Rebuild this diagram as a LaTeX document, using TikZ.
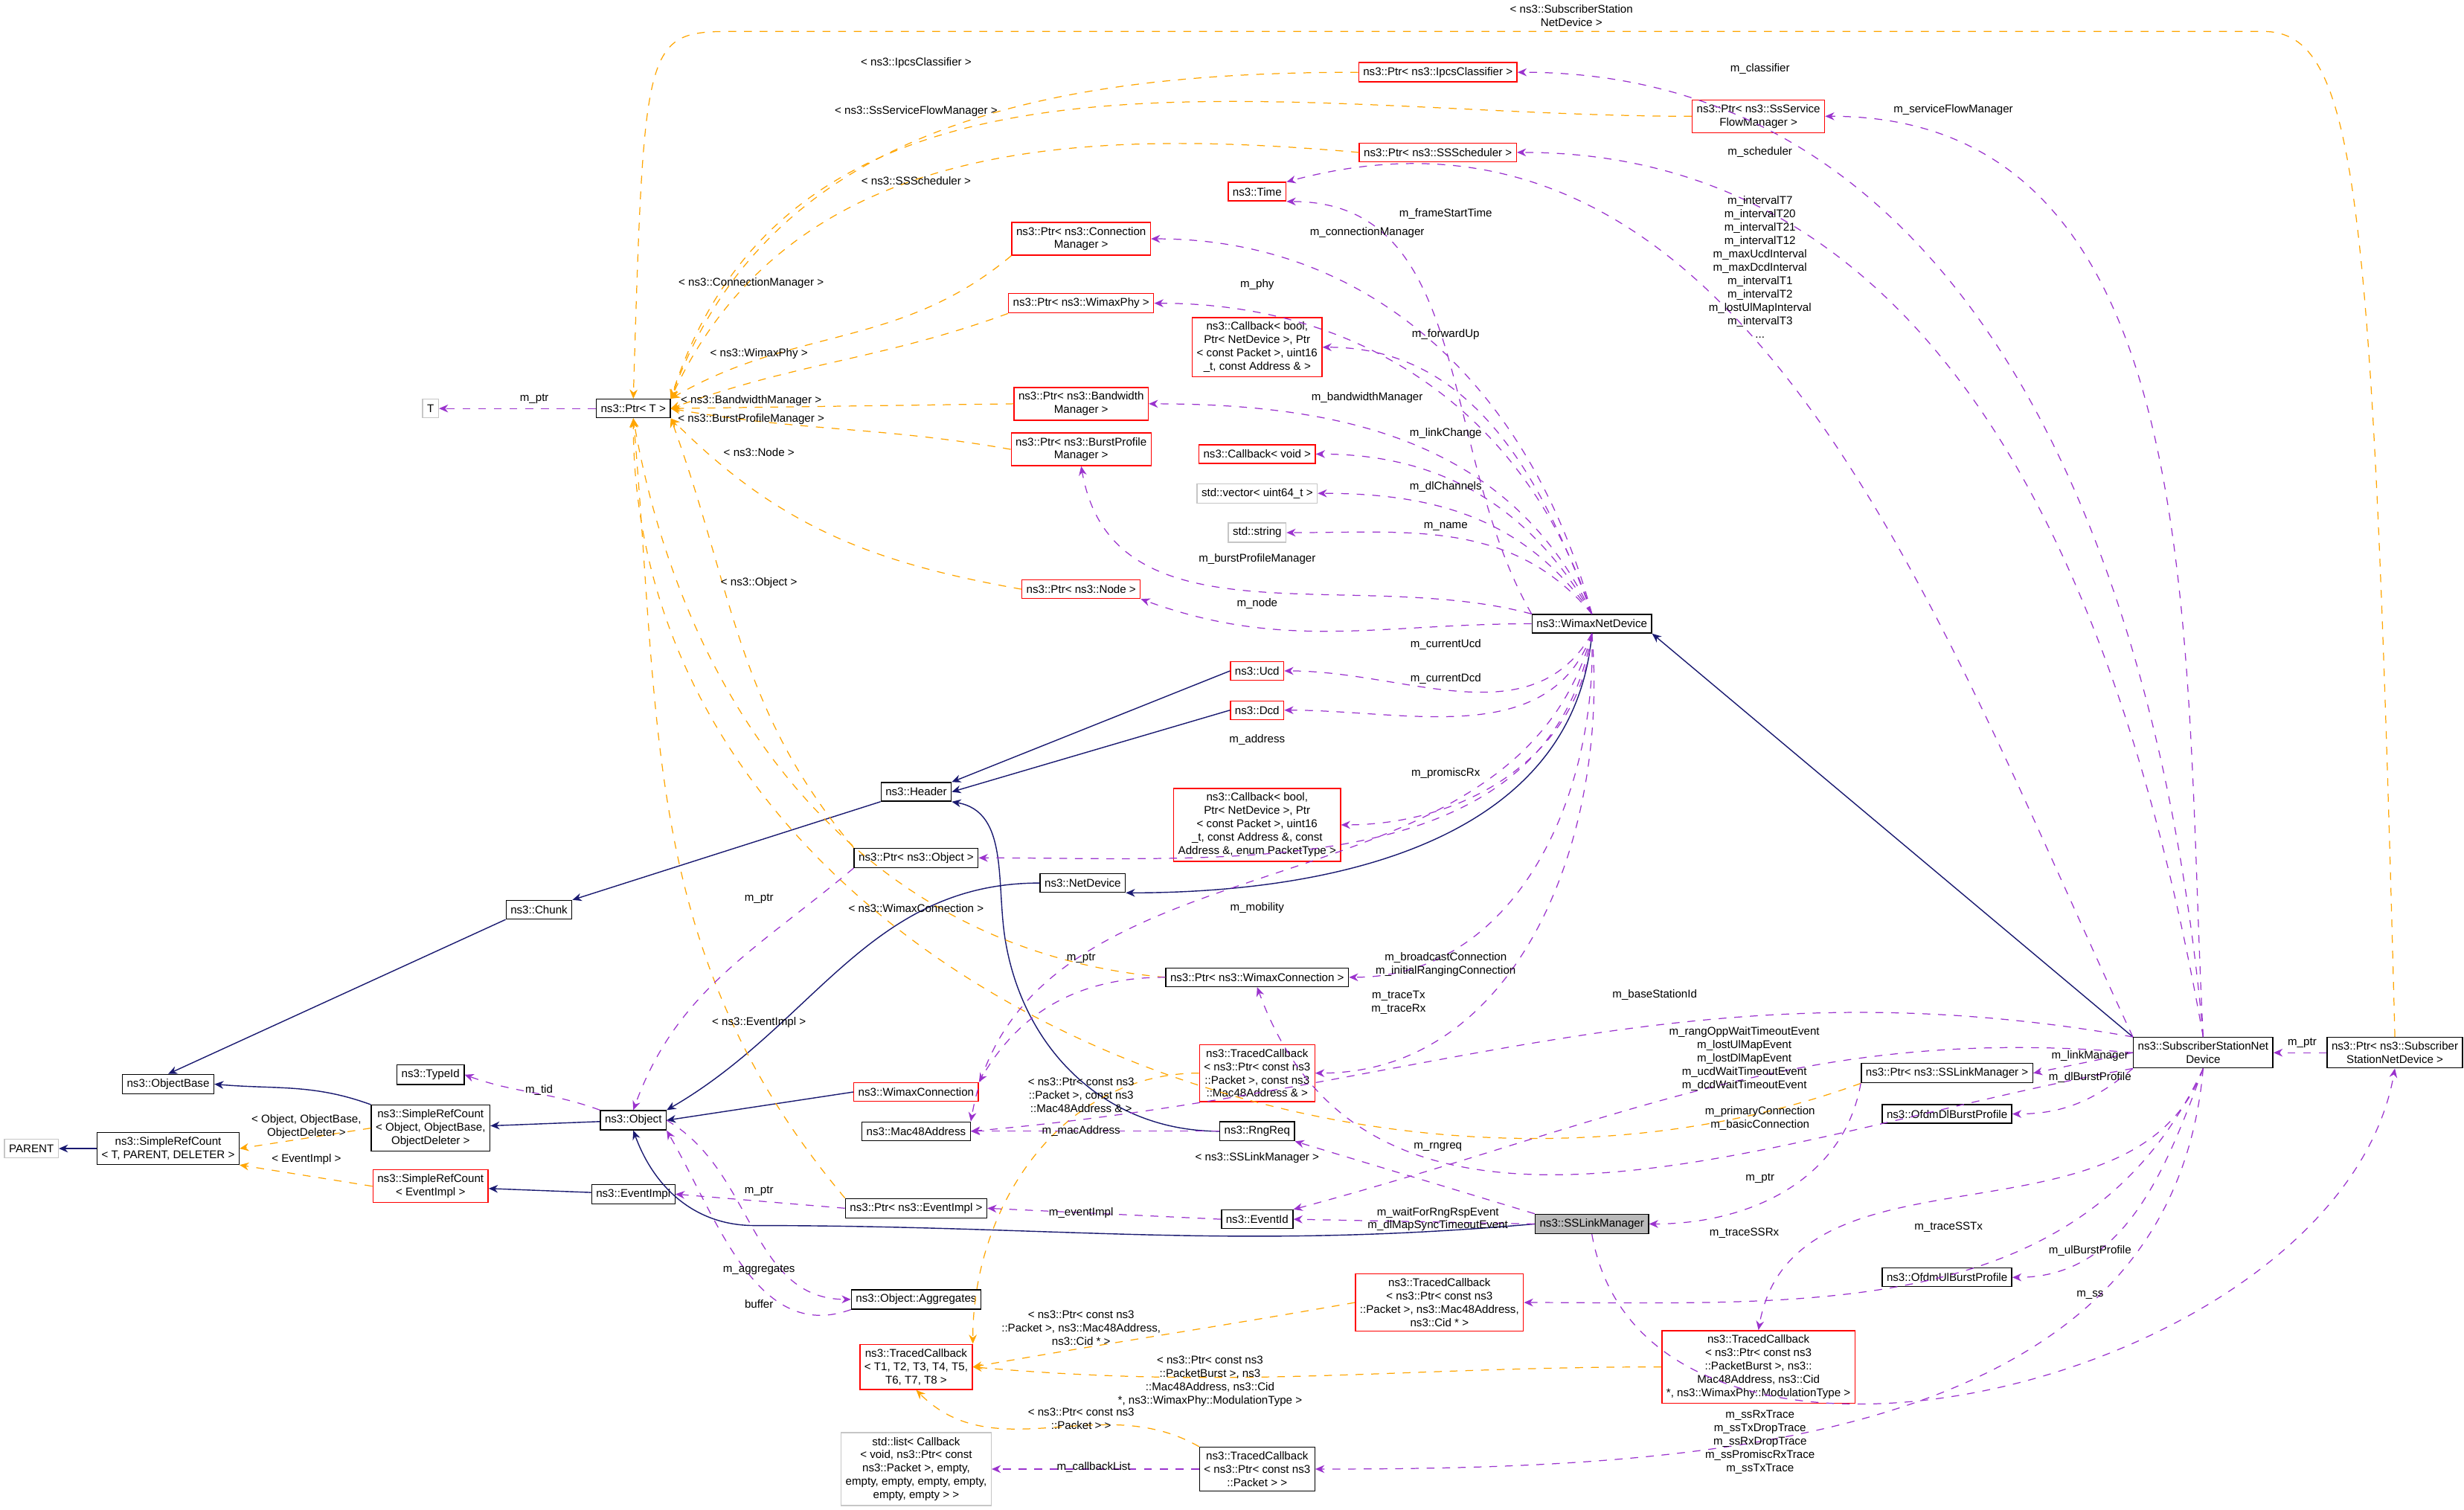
\documentclass[tikz,border=0pt]{standalone}
\usepackage{fontspec}
\setmainfont{Liberation Sans}
\usetikzlibrary{arrows.meta}
\definecolor{memcol}{HTML}{9A32CD}
\definecolor{tplcol}{HTML}{FFA500}
\definecolor{inhcol}{HTML}{191970}
\newcommand{\dfont}{\fontsize{4.3}{5.1}\selectfont}
\tikzset{
  cls/.style={draw=black, fill=white, font=\dfont, align=center, inner sep=1.7pt, minimum height=0.25cm, line width=0.4pt},
  redcls/.style={cls, draw=red},
  extcls/.style={cls, draw=gray!45},
  focus/.style={cls, fill=gray!55},
  lbl/.style={font=\dfont, align=center, text=black, inner sep=0.5pt},
  mem/.style={memcol, dashed, line width=0.35pt, -{Stealth[length=3.5pt,width=3pt]}},
  tpl/.style={tplcol, dashed, line width=0.35pt, -{Stealth[length=3.5pt,width=3pt]}},
  inh/.style={inhcol, line width=0.4pt, -{Stealth[length=3.5pt,width=3pt]}}
}
\begin{document}
\begin{tikzpicture}[x=0.02112cm, y=-0.02112cm]
\useasboundingbox (0,0) rectangle (1568,961);
% classes
\node[extcls] (parent) at (20,731) {PARENT};
\node[cls] (srct) at (107,731) {ns3::SimpleRefCount\\< T, PARENT, DELETER >};
\node[cls] (objbase) at (107,690) {ns3::ObjectBase};
\node[cls] (chunk) at (343,579) {ns3::Chunk};
\node[cls] (typeid) at (274,684) {ns3::TypeId};
\node[cls] (srcobj) at (274,718) {ns3::SimpleRefCount\\< Object, ObjectBase,\\ObjectDeleter >};
\node[redcls] (srcev) at (274,755) {ns3::SimpleRefCount\\< EventImpl >};
\node[cls] (object) at (403,713) {ns3::Object};
\node[cls] (eventimpl) at (403,760) {ns3::EventImpl};
\node[extcls] (tt) at (274,260) {T};
\node[cls] (ptrt) at (403,260) {ns3::Ptr< T >};
\node[cls] (header) at (583,504) {ns3::Header};
\node[cls] (ptrobj) at (583,546) {ns3::Ptr< ns3::Object >};
\node[redcls] (wconn) at (583,695) {ns3::WimaxConnection};
\node[cls] (mac) at (583,720) {ns3::Mac48Address};
\node[cls] (ptrev) at (583,769) {ns3::Ptr< ns3::EventImpl >};
\node[cls] (aggr) at (583,827) {ns3::Object::Aggregates};
\node[redcls] (tcgen) at (583,870) {ns3::TracedCallback\\< T1, T2, T3, T4, T5,\\T6, T7, T8 >};
\node[extcls] (cblist) at (583,935) {std::list< Callback\\< void, ns3::Ptr< const\\ns3::Packet >, empty,\\empty, empty, empty, empty,\\empty, empty > >};
\node[redcls] (ptrcm) at (688,152) {ns3::Ptr< ns3::Connection\\Manager >};
\node[redcls] (ptrphy) at (688,193) {ns3::Ptr< ns3::WimaxPhy >};
\node[redcls] (ptrbw) at (688,257) {ns3::Ptr< ns3::Bandwidth\\Manager >};
\node[redcls] (ptrbp) at (688,286) {ns3::Ptr< ns3::BurstProfile\\Manager >};
\node[redcls] (ptrnode) at (688,375) {ns3::Ptr< ns3::Node >};
\node[cls] (netdev) at (689,562) {ns3::NetDevice};
\node[redcls] (ptrcls) at (915,46) {ns3::Ptr< ns3::IpcsClassifier >};
\node[redcls] (ptrsf) at (1119,74) {ns3::Ptr< ns3::SsService\\FlowManager >};
\node[redcls] (ptrsch) at (915,97) {ns3::Ptr< ns3::SSScheduler >};
\node[redcls] (time) at (800,122) {ns3::Time};
\node[redcls] (cbfwd) at (800,221) {ns3::Callback< bool,\\Ptr< NetDevice >, Ptr\\< const Packet >, uint16\\\_t, const Address \& >};
\node[redcls] (cbvoid) at (800,289) {ns3::Callback< void >};
\node[extcls] (vec) at (800,314) {std::vector< uint64\_t >};
\node[extcls] (str) at (800,339) {std::string};
\node[cls] (wnd) at (1013,397) {ns3::WimaxNetDevice};
\node[redcls] (ucd) at (800,427) {ns3::Ucd};
\node[redcls] (dcd) at (800,452) {ns3::Dcd};
\node[redcls] (cbprom) at (800,525) {ns3::Callback< bool,\\Ptr< NetDevice >, Ptr\\< const Packet >, uint16\\\_t, const Address \&, const\\Address \&, enum PacketType >};
\node[cls] (ptrwc) at (800,622) {ns3::Ptr< ns3::WimaxConnection >};
\node[redcls] (tcmac) at (800,683) {ns3::TracedCallback\\< ns3::Ptr< const ns3\\::Packet >, const ns3\\::Mac48Address \& >};
\node[cls] (rngreq) at (800,720) {ns3::RngReq};
\node[cls] (eventid) at (800,776) {ns3::EventId};
\node[cls] (tcpkt) at (800,935) {ns3::TracedCallback\\< ns3::Ptr< const ns3\\::Packet > >};
\node[focus] (sslm) at (1013,779) {ns3::SSLinkManager};
\node[redcls] (tccid) at (916,829) {ns3::TracedCallback\\< ns3::Ptr< const ns3\\::Packet >, ns3::Mac48Address,\\ns3::Cid * >};
\node[redcls] (tcburst) at (1119,870) {ns3::TracedCallback\\< ns3::Ptr< const ns3\\::PacketBurst >, ns3::\\Mac48Address, ns3::Cid\\*, ns3::WimaxPhy::ModulationType >};
\node[cls] (ssnd) at (1402,670) {ns3::SubscriberStationNet\\Device};
\node[cls] (ptrlm) at (1239,683) {ns3::Ptr< ns3::SSLinkManager >};
\node[cls] (dlburst) at (1239,709) {ns3::OfdmDlBurstProfile};
\node[cls] (ulburst) at (1239,813) {ns3::OfdmUlBurstProfile};
\node[cls] (ptrssnd) at (1524,670) {ns3::Ptr< ns3::Subscriber\\StationNetDevice >};
% inheritance
\draw[inh] (srct) -- (parent);
\draw[inh] (chunk.south west) -- (objbase.north);
\draw[inh] (srcobj.north west) to[out=160,in=-5] (objbase.east);
\draw[inh] (header.south west) -- (chunk.north east);
\draw[inh] (object) -- (srcobj);
\draw[inh] (eventimpl) -- (srcev);
\draw[inh] (wconn.west) -- (object.east);
\draw[inh] (netdev.west) to[out=180,in=30] (object.north east);
\draw[inh] (ucd.west) -- (header.north east);
\draw[inh] (dcd.west) -- (header.east);
\draw[inh] (rngreq.west) to[out=180,in=-80] (640,600) to[out=100,in=-10] (header.south east);
\draw[inh] (wnd.south) to[out=-95,in=0] (netdev.south east);
\draw[inh] (ssnd.north west) -- (wnd.south east);
\draw[inh] (sslm.west) to[out=185,in=0] (480,780) to[out=180,in=-70] (object.south);
% templates
\draw[tpl] (srcobj.west) -- (srct.east);
\draw[tpl] (srcev.west) -- (srct.south east);
\draw[tpl] (ptrcls.west) to[out=180,in=70] (ptrt.north east);
\draw[tpl] (ptrsf.west) to[out=180,in=72] (ptrt.north east);
\draw[tpl] (ptrsch.west) to[out=175,in=65] (ptrt.north east);
\draw[tpl] (ptrcm.south west) to[out=220,in=30] (ptrt.north east);
\draw[tpl] (ptrphy.south west) to[out=200,in=20] (ptrt.east);
\draw[tpl] (ptrbw.west) -- (ptrt.east);
\draw[tpl] (ptrbp.west) to[out=170,in=-10] (ptrt.east);
\draw[tpl] (ptrnode.west) to[out=170,in=-45] (ptrt.south east);
\draw[tpl] (ptrobj.north west) to[out=130,in=-70] (ptrt.south east);
\draw[tpl] (ptrwc.west) to[out=175,in=-80] (ptrt.south);
\draw[tpl] (ptrev.north west) to[out=130,in=-85] (ptrt.south);
\draw[tpl] (ptrlm.south west) to[out=200,in=-90] (ptrt.south);
\draw[tpl] (ptrssnd.north) .. controls (1510,120) and (1500,20) .. (1440,20) -- (470,20) .. controls (410,20) .. (ptrt.north);
\draw[tpl] (tcmac.west) to[out=180,in=90] (tcgen.north east);
\draw[tpl] (tccid.west) to[out=190,in=10] (tcgen.east);
\draw[tpl] (tcburst.west) to[out=180,in=-5] (tcgen.east);
\draw[tpl] (tcpkt.north west) to[out=150,in=-45] (tcgen.south);
% members
\draw[mem] (ptrt) -- (tt);
\draw[mem] (ptrobj.south west) to[out=220,in=70] (object.north);
\draw[mem] (ptrev.west) -- (eventimpl.east);
\draw[mem] (object.east) to[out=-30,in=180] (aggr.west);
\draw[mem] (aggr.south west) to[out=200,in=-60] (object.south east);
\draw[mem] (object.north west) to[out=160,in=-20] (typeid.east);
\draw[mem] (eventid.west) -- (ptrev.east);
\draw[mem] (rngreq.west) -- (mac.east);
\draw[mem] (ptrwc.west) to[out=180,in=60] (wconn.north east);
\draw[mem] (tcpkt.west) -- (cblist.east);
\draw[mem] (wnd.north west) to[out=120,in=0] (time.south east);
\draw[mem] (wnd.north) to[out=105,in=0] (ptrcm.east);
\draw[mem] (wnd.north) to[out=108,in=0] (ptrphy.east);
\draw[mem] (wnd.north) to[out=110,in=0] (cbfwd.east);
\draw[mem] (wnd.north) to[out=115,in=0] (ptrbw.east);
\draw[mem] (wnd.north) to[out=120,in=0] (cbvoid.east);
\draw[mem] (wnd.north) to[out=125,in=0] (vec.east);
\draw[mem] (wnd.north) to[out=130,in=0] (str.east);
\draw[mem] (wnd.north west) to[out=165,in=-80] (ptrbp.south);
\draw[mem] (wnd.west) to[out=180,in=-20] (ptrnode.south east);
\draw[mem] (wnd.south) to[out=-120,in=0] (ucd.east);
\draw[mem] (wnd.south) to[out=-110,in=0] (dcd.east);
\draw[mem] (wnd.south) to[out=-105,in=80] (mac.north east);
\draw[mem] (wnd.south) to[out=-95,in=0] (cbprom.east);
\draw[mem] (wnd.south) to[out=-100,in=0] (ptrobj.east);
\draw[mem] (wnd.south) to[out=-88,in=0] (ptrwc.east);
\draw[mem] (wnd.south) to[out=-85,in=0] (tcmac.east);
\draw[mem] (ssnd.north) to[out=95,in=0] (ptrcls.east);
\draw[mem] (ssnd.north) to[out=93,in=0] (ptrsf.east);
\draw[mem] (ssnd.north) to[out=100,in=0] (ptrsch.east);
\draw[mem] (ssnd.north west) to[out=115,in=15] (time.north east);
\draw[mem] (ssnd.north west) to[out=170,in=5] (mac.east);
\draw[mem] (ssnd.west) to[out=175,in=15] (eventid.north east);
\draw[mem] (ssnd.south west) to[out=190,in=-70] (ptrwc.south);
\draw[mem] (ssnd.west) -- (ptrlm.east);
\draw[mem] (ssnd.south west) to[out=220,in=0] (dlburst.east);
\draw[mem] (ssnd.south) to[out=-110,in=0] (ulburst.east);
\draw[mem] (ssnd.south) to[out=-115,in=0] (tccid.east);
\draw[mem] (ssnd.south) to[out=-110,in=80] (tcburst.north);
\draw[mem] (ssnd.south) to[out=-95,in=0] (tcpkt.east);
\draw[mem] (ptrssnd.west) -- (ssnd.east);
\draw[mem] (ptrlm.south west) to[out=-100,in=0] (sslm.east);
\draw[mem] (sslm.west) -- (eventid.east);
\draw[mem] (sslm.north west) -- (rngreq.south east);
\draw[mem] (sslm.south) to[out=-80,in=-100] (ptrssnd.south);
% labels
\node[lbl] (lsub) at (1000,10) {< ns3::SubscriberStation\\NetDevice >};
\node[lbl] (lcls) at (583,40) {< ns3::IpcsClassifier >};
\node[lbl] (lsf) at (583,71) {< ns3::SsServiceFlowManager >};
\node[lbl] (lsch) at (583,115) {< ns3::SSScheduler >};
\node[lbl] (lcm) at (478,180) {< ns3::ConnectionManager >};
\node[lbl] (lphy) at (483,225) {< ns3::WimaxPhy >};
\node[lbl] (lbw) at (478,255) {< ns3::BandwidthManager >};
\node[lbl] (lbp) at (478,267) {< ns3::BurstProfileManager >};
\node[lbl] (lnode) at (483,288) {< ns3::Node >};
\node[lbl] (lobj) at (483,371) {< ns3::Object >};
\node[lbl] (lwc) at (583,578) {< ns3::WimaxConnection >};
\node[lbl] (lev) at (483,651) {< ns3::EventImpl >};
\node[lbl] (llm) at (800,737) {< ns3::SSLinkManager >};
\node[lbl] (lsrco) at (195,717) {< Object, ObjectBase,\\ObjectDeleter >};
\node[lbl] (lsrce) at (195,738) {< EventImpl >};
\node[lbl] (ltcmac) at (688,697) {< ns3::Ptr< const ns3\\::Packet >, const ns3\\::Mac48Address \& >};
\node[lbl] (ltccid) at (688,845) {< ns3::Ptr< const ns3\\::Packet >, ns3::Mac48Address,\\ns3::Cid * >};
\node[lbl] (ltcbur) at (770,879) {< ns3::Ptr< const ns3\\::PacketBurst >, ns3\\::Mac48Address, ns3::Cid\\*, ns3::WimaxPhy::ModulationType >};
\node[lbl] (ltcpkt) at (688,903) {< ns3::Ptr< const ns3\\::Packet > >};
\node[lbl] (lptrt) at (340,254) {m\_ptr};
\node[lbl] (lptro) at (483,572) {m\_ptr};
\node[lbl] (lptre) at (483,758) {m\_ptr};
\node[lbl] (lptrw) at (688,610) {m\_ptr};
\node[lbl] (ltid) at (343,694) {m\_tid};
\node[lbl] (laggr) at (483,808) {m\_aggregates};
\node[lbl] (lbuf) at (483,830) {buffer};
\node[lbl] (levi) at (688,772) {m\_eventImpl};
\node[lbl] (lmaca) at (688,720) {m\_macAddress};
\node[lbl] (lcbl) at (696,934) {m\_callbackList};
\node[lbl] (lclsm) at (1120,44) {m\_classifier};
\node[lbl] (lsfm) at (1243,70) {m\_serviceFlowManager};
\node[lbl] (lschm) at (1120,97) {m\_scheduler};
\node[lbl] (lint) at (1120,170) {m\_intervalT7\\m\_intervalT20\\m\_intervalT21\\m\_intervalT12\\m\_maxUcdInterval\\m\_maxDcdInterval\\m\_intervalT1\\m\_intervalT2\\m\_lostUlMapInterval\\m\_intervalT3\\...};
\node[lbl] (lfst) at (920,136) {m\_frameStartTime};
\node[lbl] (lcmm) at (870,148) {m\_connectionManager};
\node[lbl] (lphym) at (800,181) {m\_phy};
\node[lbl] (lfwd) at (920,213) {m\_forwardUp};
\node[lbl] (lbwm) at (870,253) {m\_bandwidthManager};
\node[lbl] (llc) at (920,276) {m\_linkChange};
\node[lbl] (ldlc) at (920,310) {m\_dlChannels};
\node[lbl] (lname) at (920,335) {m\_name};
\node[lbl] (lbpm) at (800,356) {m\_burstProfileManager};
\node[lbl] (lnodem) at (800,384) {m\_node};
\node[lbl] (lucd) at (920,410) {m\_currentUcd};
\node[lbl] (ldcd) at (920,432) {m\_currentDcd};
\node[lbl] (laddr) at (800,471) {m\_address};
\node[lbl] (lprom) at (920,492) {m\_promiscRx};
\node[lbl] (lmob) at (800,578) {m\_mobility};
\node[lbl] (lbc) at (920,614) {m\_broadcastConnection\\m\_initialRangingConnection};
\node[lbl] (ltr) at (890,638) {m\_traceTx\\m\_traceRx};
\node[lbl] (lbs) at (1053,633) {m\_baseStationId};
\node[lbl] (lrang) at (1110,674) {m\_rangOppWaitTimeoutEvent\\m\_lostUlMapEvent\\m\_lostDlMapEvent\\m\_ucdWaitTimeoutEvent\\m\_dcdWaitTimeoutEvent};
\node[lbl] (llmm) at (1330,672) {m\_linkManager};
\node[lbl] (ldlb) at (1330,686) {m\_dlBurstProfile};
\node[lbl] (lprim) at (1120,712) {m\_primaryConnection\\m\_basicConnection};
\node[lbl] (lptrs) at (1465,664) {m\_ptr};
\node[lbl] (lrng) at (915,730) {m\_rngreq};
\node[lbl] (lptrl) at (1120,750) {m\_ptr};
\node[lbl] (lwait) at (915,776) {m\_waitForRngRspEvent\\m\_dlMapSyncTimeoutEvent};
\node[lbl] (lssrx) at (1110,785) {m\_traceSSRx};
\node[lbl] (lsstx) at (1240,781) {m\_traceSSTx};
\node[lbl] (lulb) at (1330,796) {m\_ulBurstProfile};
\node[lbl] (lss) at (1330,824) {m\_ss};
\node[lbl] (ltrace) at (1120,918) {m\_ssRxTrace\\m\_ssTxDropTrace\\m\_ssRxDropTrace\\m\_ssPromiscRxTrace\\m\_ssTxTrace};
\end{tikzpicture}
\end{document}
